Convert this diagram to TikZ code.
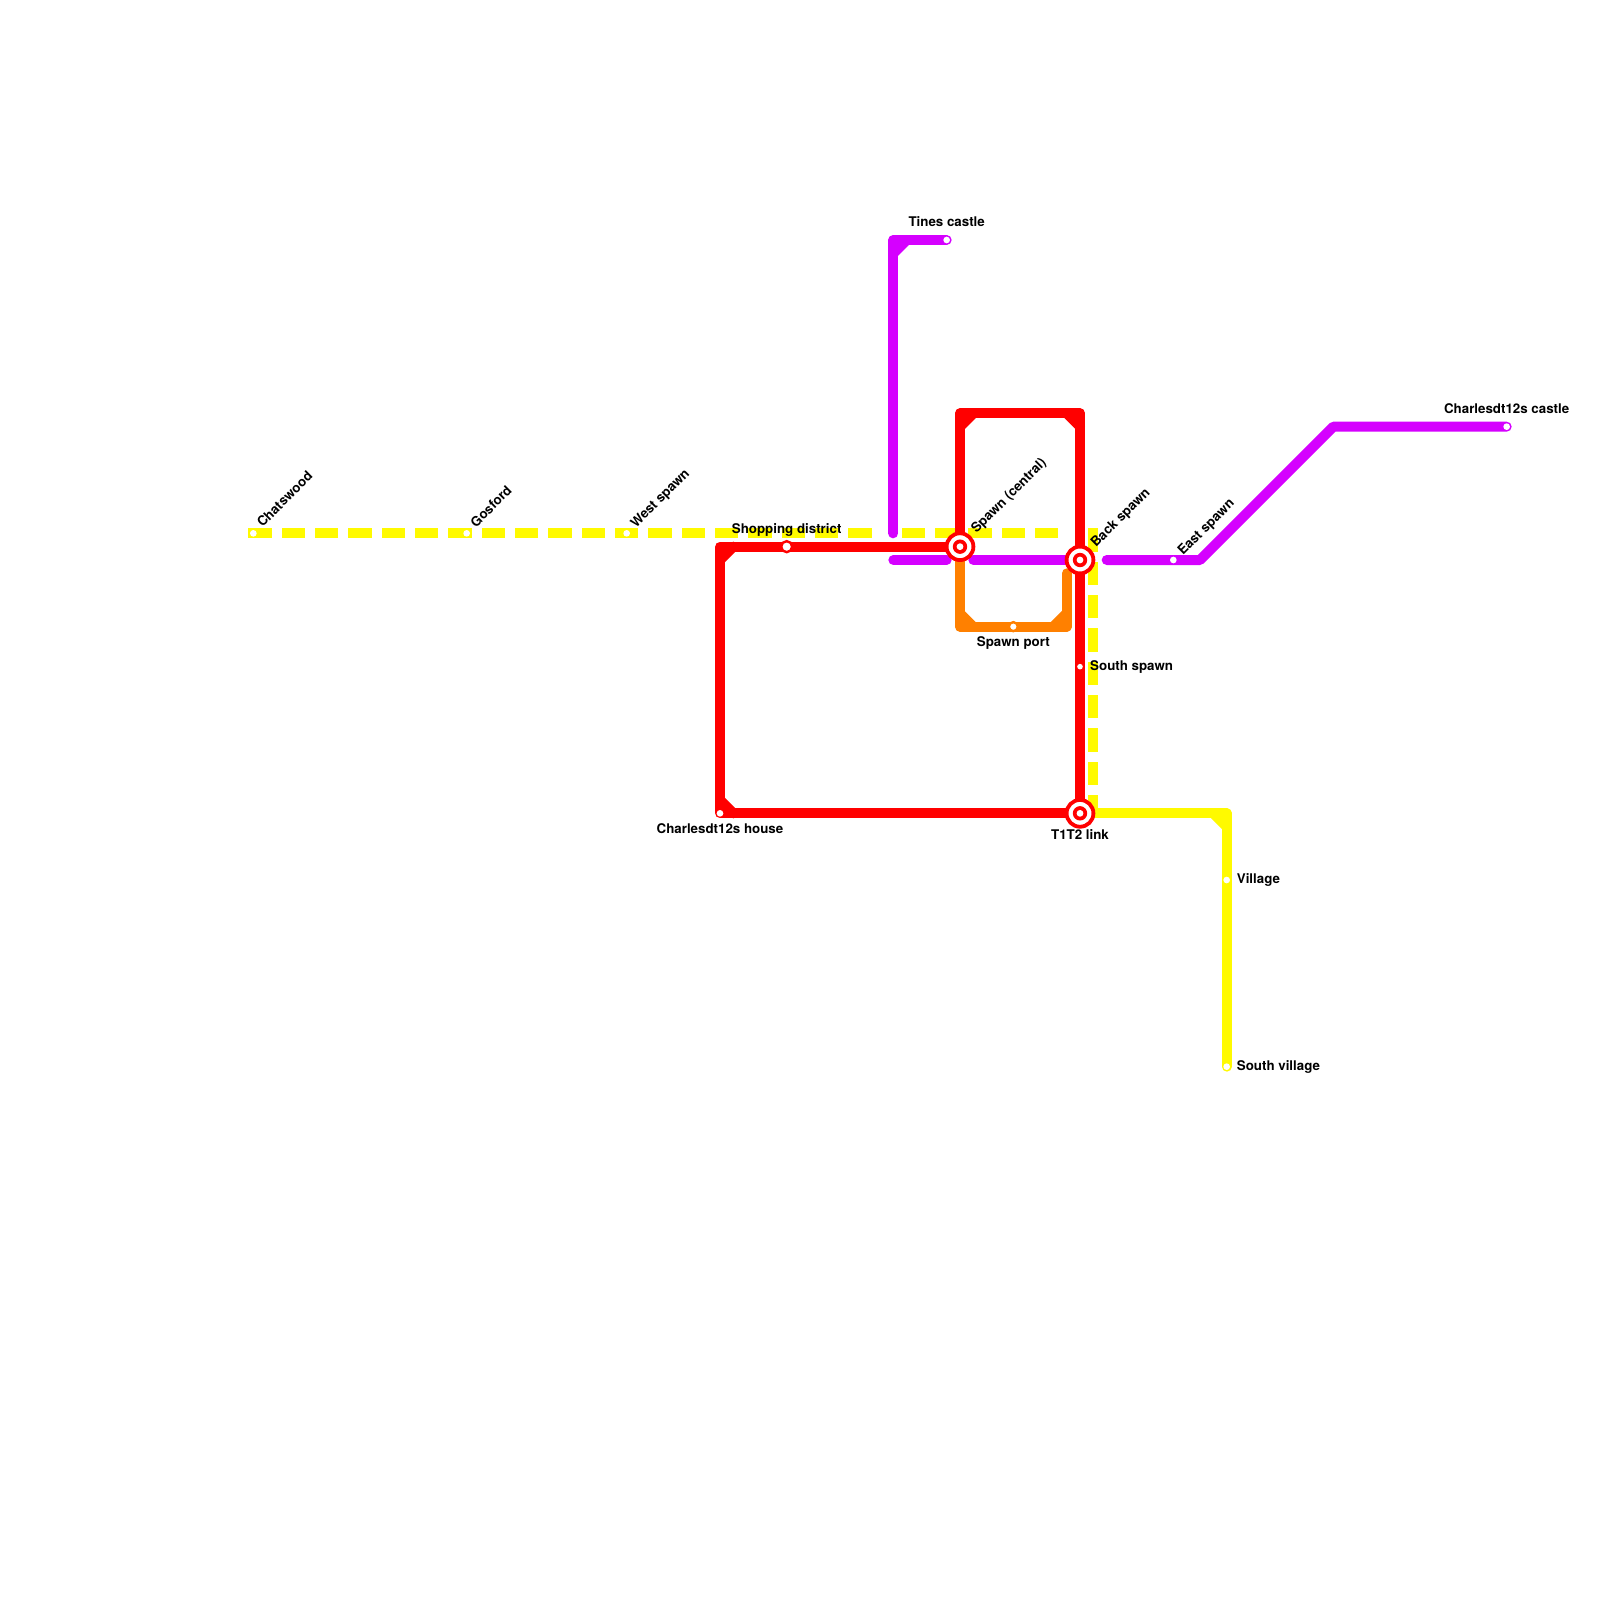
\documentclass[tikz,border=0pt]{standalone}
\usepackage{fontspec}
\setmainfont{TeX Gyre Heros}[BoldFont={* Bold}]
\definecolor{lnyellow}{HTML}{FFFA00}
\definecolor{lnred}{HTML}{FF0000}
\definecolor{lnpurple}{HTML}{D500FF}
\definecolor{lnorange}{HTML}{FF8000}
\pgfdeclarelayer{lines}
\pgfsetlayers{lines,main}
\tikzset{
  x=13.33333pt,y=-13.33333pt,
  metro/.style={line width=10pt,line cap=round,line join=round},
  yellowline/.style={metro,draw=lnyellow},
  dashline/.style={line width=10pt,draw=lnyellow,line cap=rect,dash pattern=on 13.333pt off 20pt},
  redline/.style={metro,draw=lnred},
  purpleline/.style={metro,draw=lnpurple},
  orangeline/.style={metro,draw=lnorange},
  stop/.style={circle,fill=white,inner sep=0pt,outer sep=0pt,minimum size=6.67pt},
  ringstop/.style={circle,fill=white,draw=#1,inner sep=0pt,outer sep=0pt,line width=2.4pt,minimum size=11pt},
  hub/.style={circle,draw=lnred,fill=white,inner sep=0pt,outer sep=0pt,line width=3.8pt,minimum size=26.8pt,
    path picture={\fill[lnred](path picture bounding box.center) circle (7.2pt);
                  \fill[white](path picture bounding box.center) circle (3.4pt);}},
  lbl/.style={font=\fontsize{13.33pt}{15pt}\selectfont\bfseries,inner sep=0pt,text=black},
  lblmid/.style={lbl,anchor=base},
  lblleft/.style={lbl,anchor=base west},
  lbldiag/.style={lbl,anchor=base west,rotate=45},
}
\begin{document}
\begin{tikzpicture}
\useasboundingbox (0,0) rectangle (120,120);
% stations
\node[stop] (chatswood) at (19,40) {};
\node[stop] (gosford) at (35,40) {};
\node[stop] (westspawn) at (47,40) {};
\node[ringstop=lnred] (shopping) at (59,41) {};
\node[hub] (spawn) at (72,41) {};
\node[hub] (backspawn) at (81,42) {};
\node[hub] (link) at (81,61) {};
\node[stop] (house) at (54,61) {};
\node[stop,minimum size=5.6pt] (southspawn) at (81,50) {};
\node[ringstop=lnorange,minimum size=9pt] (spawnport) at (76,47) {};
\node[stop] (tines) at (71,18) {};
\node[stop] (eastspawn) at (88,42) {};
\node[stop] (castle) at (113,32) {};
\node[stop] (village) at (92,66) {};
\node[stop] (southvillage) at (92,80) {};
% free ends and bends
\coordinate (ya) at (65,40);
\coordinate (yb) at (68,40);
\coordinate (yc) at (79,40);
\coordinate (yd) at (82,40);
\coordinate (ye) at (82,61);
\coordinate (yf) at (92,61);
\coordinate (yf1) at (91,61);
\coordinate (yf2) at (92,62);
\coordinate (pa) at (67,40);
\coordinate (pb) at (67,18);
\coordinate (pb1) at (67,19);
\coordinate (pb2) at (68,18);
\coordinate (pc) at (67,42);
\coordinate (pd) at (71,42);
\coordinate (pe) at (73,42);
\coordinate (pf) at (83,42);
\coordinate (pg) at (90,42);
\coordinate (ph) at (100,32);
\coordinate (ra) at (54,41);
\coordinate (ra1) at (54,42);
\coordinate (ra2) at (55,41);
\coordinate (rb1) at (54,60);
\coordinate (rb2) at (55,61);
\coordinate (rc) at (72,31);
\coordinate (rc1) at (72,32);
\coordinate (rc2) at (73,31);
\coordinate (rd) at (81,31);
\coordinate (rd1) at (80,31);
\coordinate (rd2) at (81,32);
\coordinate (oa) at (72,47);
\coordinate (oa1) at (72,46);
\coordinate (oa2) at (73,47);
\coordinate (ob) at (80,47);
\coordinate (ob1) at (79,47);
\coordinate (ob2) at (80,46);
\coordinate (oc) at (80,43);
% labels
\node[lbldiag] (tchatswood) at (19.69,39.6) {Chatswood};
\node[lbldiag] (tgosford) at (35.69,39.62) {Gosford};
\node[lbldiag] (twest) at (47.69,39.65) {West spawn};
\node[lbldiag] (tspawn) at (73.24,40.05) {Spawn (central)};
\node[lbldiag] (tback) at (82.2,41.1) {Back spawn};
\node[lbldiag] (teast) at (88.72,41.7) {East spawn};
\node[lblmid] (tshopping) at (59,40.03) {Shopping district};
\node[lblmid] (tport) at (76,48.5) {Spawn port};
\node[lblmid] (thouse) at (54,62.53) {Charlesdt12s house};
\node[lblmid] (tlink) at (81,62.95) {T1T2 link};
\node[lblmid] (ttines) at (71,17) {Tines castle};
\node[lblmid] (tcastle) at (113,31) {Charlesdt12s castle};
\node[lblleft] (tsouth) at (81.75,50.25) {South spawn};
\node[lblleft] (tvillage) at (92.75,66.25) {Village};
\node[lblleft] (tsv) at (92.75,80.25) {South village};
% connectors
\begin{pgfonlayer}{lines}
\fill[white] (0,0) rectangle (120,120);
\draw[dashline] (chatswood.center) -- (ya);
\draw[dashline] (yb) -- (yc);
\draw[dashline] (yd) -- (ye);
\draw[yellowline] (ye) -- (yf) -- (southvillage.center);
\draw[yellowline] (yf1) -- (yf2);
\draw[purpleline] (pa) -- (pb) -- (tines.center);
\draw[purpleline] (pb1) -- (pb2);
\draw[purpleline] (pc) -- (pd);
\draw[purpleline] (pe) -- (backspawn.center);
\draw[purpleline] (pf) -- (pg) -- (ph) -- (castle.center);
\draw[orangeline] (spawn.center) -- (oa) -- (ob) -- (oc);
\draw[orangeline] (oa1) -- (oa2);
\draw[orangeline] (ob1) -- (ob2);
\draw[redline] (spawn.center) -- (ra) -- (house.center) -- (link.center) -- (backspawn.center) -- (rd) -- (rc) -- (spawn.center);
\draw[redline] (ra1) -- (ra2);
\draw[redline] (rb1) -- (rb2);
\draw[redline] (rc1) -- (rc2);
\draw[redline] (rd1) -- (rd2);
\end{pgfonlayer}
\end{tikzpicture}
\end{document}
